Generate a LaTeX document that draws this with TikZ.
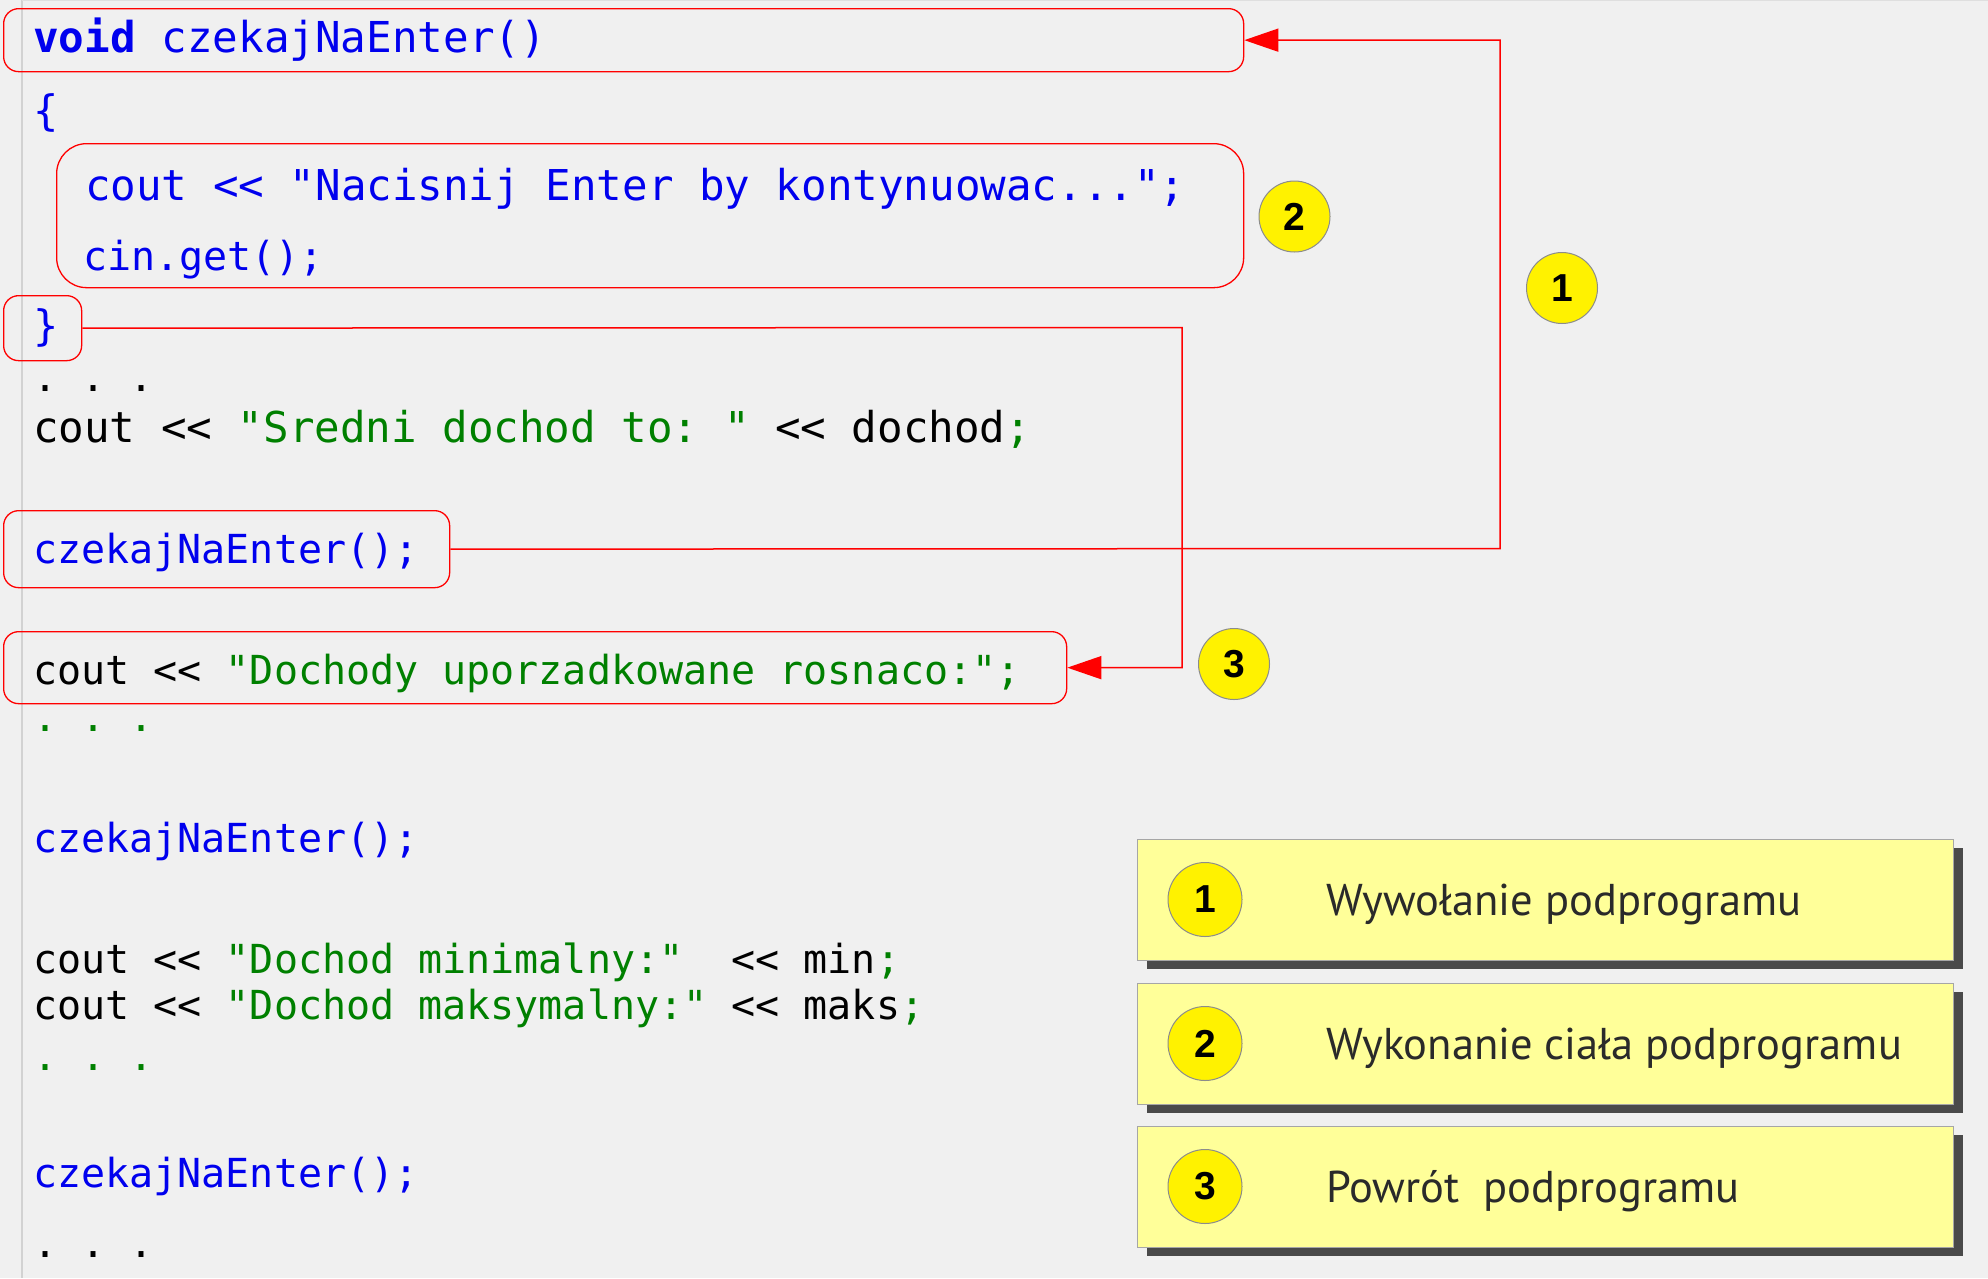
\documentclass[tikz,border=0pt]{standalone}
\usepackage{fontspec}
\setmonofont{DejaVu Sans Mono}
\newfontfamily\legfont{PT Sans}
\newfontfamily\numfont{Liberation Sans}
\usetikzlibrary{arrows.meta,shadows}
\definecolor{cblue}{HTML}{0000EE}
\definecolor{cgreen}{HTML}{008000}
\definecolor{bgc}{HTML}{F0F0F0}
\definecolor{legy}{HTML}{FFFF99}
\definecolor{shadowc}{HTML}{4A4A4A}
\definecolor{legtext}{HTML}{2A2A2A}
\begin{document}
\begin{tikzpicture}[x=1pt,y=-1pt,
  codebox/.style={draw=red, line width=1.3pt, rounded corners=15pt, inner sep=0pt, anchor=north west},
  code/.style={anchor=base west, inner sep=0pt, font=\ttfamily\fontsize{40}{48}\selectfont},
  bigcode/.style={code, font=\ttfamily\fontsize{42.6}{50}\selectfont},
  num/.style={circle, draw=gray!90, fill=yellow, line width=1pt, minimum size=71pt, inner sep=0pt, font=\numfont\bfseries\fontsize{39}{40}\selectfont},
  legbox/.style={draw=gray!70, fill=legy, line width=1pt, minimum width=816pt, minimum height=121pt, anchor=north west, inner sep=0pt,
     drop shadow={shadow xshift=9pt, shadow yshift=-8pt, fill=shadowc, opacity=1}},
  legtxt/.style={anchor=base west, inner sep=0pt, text=legtext, font=\legfont\fontsize{44.5}{50}\selectfont},
  conn/.style={draw=red, line width=1.5pt},
  arr/.style={conn, -{Triangle[length=34pt,width=23pt,fill=red]}}
]
\useasboundingbox (0,0) rectangle (1988,1278);
\fill[bgc] (0,0) rectangle (1988,1278);
\draw[gray!35, line width=1.5pt] (22,0) -- (22,1278);
\draw[gray!25, line width=1.5pt] (22,0.5) -- (1988,0.5);

% code boxes
\node[codebox, minimum width=1240pt, minimum height=63pt] (b1) at (3,8) {};
\node[codebox, rounded corners=30pt, minimum width=1187pt, minimum height=144pt] (b2) at (56,143) {};
\node[codebox, minimum width=78pt, minimum height=65pt] (b3) at (3,295) {};
\node[codebox, minimum width=446pt, minimum height=77pt] (b4) at (3,510) {};
\node[codebox, minimum width=1063pt, minimum height=72pt] (b5) at (3,631) {};

% code text
\node[bigcode, text=cblue] (t1) at (33,52) {\textbf{void} czekajNaEnter()};
\node[code, font=\ttfamily\fontsize{42}{50}\selectfont, text=cblue] (t2) at (33,125) {\{};
\node[bigcode, font=\ttfamily\fontsize{42.5}{50}\selectfont, text=cblue] (t3) at (85,200) {cout << "Nacisnij Enter by kontynuowac...";};
\node[code, text=cblue] (t4) at (83,270) {cin.get();};
\node[code, font=\ttfamily\fontsize{42}{50}\selectfont, text=cblue] (t5) at (33,340) {\}};
\node[code, text=black] (t6) at (33,391) {. . .};
\node[code, font=\ttfamily\fontsize{42.5}{50}\selectfont, text=black] (t7) at (33,442) {cout << \textcolor{cgreen}{"Sredni dochod to: "} << dochod\textcolor{cgreen}{;}};
\node[code, text=cblue] (t8) at (33,563) {czekajNaEnter();};
\node[code, text=black] (t9) at (33,684) {cout << \textcolor{cgreen}{"Dochody uporzadkowane rosnaco:";}};
\node[code, text=cgreen] (t10) at (33,731) {. . .};
\node[code, text=cblue] (t11) at (33,852) {czekajNaEnter();};
\node[code, text=black] (t12) at (33,973) {cout << \textcolor{cgreen}{"Dochod minimalny:"}\ \ << min\textcolor{cgreen}{;}};
\node[code, text=black] (t13) at (33,1019) {cout << \textcolor{cgreen}{"Dochod maksymalny:"} << maks\textcolor{cgreen}{;}};
\node[code, text=cgreen] (t14) at (33,1070) {. . .};
\node[code, text=cblue] (t15) at (33,1187) {czekajNaEnter();};
\node[code, text=black] (t16) at (33,1257) {. . .};

% numbered circles
\node[num] (n2) at (1294.5,216.5) {2};
\node[num] (n1) at (1562,288) {1};
\node[num] (n3) at (1234,664) {3};

% connectors
\coordinate (r1) at (1500,548.5);
\coordinate (r3) at (1182,327.5);
\draw[arr] (b4.east) -- (r1) |- (b1.east);
\draw[arr] (b3.east) -- (r3) |- (b5.east);

% legend
\node[legbox] (L1) at (1137,839) {};
\node[legbox] (L2) at (1137,983) {};
\node[legbox] (L3) at (1137,1126) {};
\node[num, minimum size=74pt] (k1) at (1205,899.5) {1};
\node[num, minimum size=74pt] (k2) at (1205,1043.5) {2};
\node[num, minimum size=74pt] (k3) at (1205,1186.5) {3};
\node[legtxt] (l1) at (1326,915) {Wywołanie podprogramu};
\node[legtxt] (l2) at (1326,1059) {Wykonanie ciała podprogramu};
\node[legtxt] (l3) at (1326,1202) {Powrót\ \ podprogramu};
\end{tikzpicture}
\end{document}
